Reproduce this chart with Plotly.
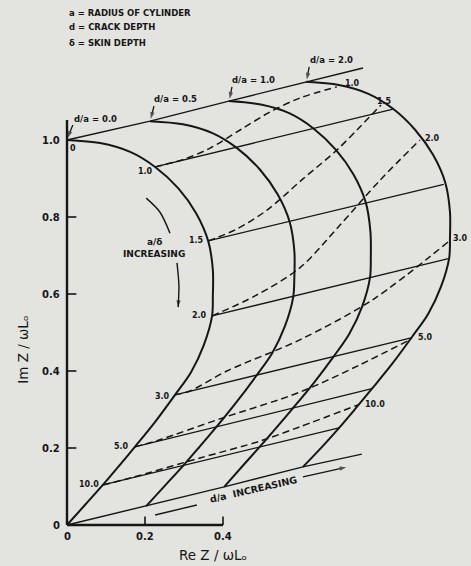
import plotly.graph_objects as go

# ---------------- data ----------------
# impedance curves for each crack depth ratio d/a
curve_x = {
    "0.0": [0.000, 0.085, 0.162, 0.226, 0.285, 0.331, 0.362, 0.374, 0.374, 0.372, 0.351, 0.318, 0.277, 0.226, 0.174, 0.133, 0.092, 0.046, 0.000],
    "0.5": [0.213, 0.297, 0.373, 0.436, 0.494, 0.540, 0.571, 0.583, 0.583, 0.580, 0.559, 0.526, 0.485, 0.433, 0.381, 0.339, 0.297, 0.250, 0.203],
    "1.0": [0.415, 0.497, 0.571, 0.632, 0.689, 0.735, 0.766, 0.778, 0.779, 0.777, 0.757, 0.724, 0.684, 0.632, 0.579, 0.537, 0.495, 0.449, 0.403],
    "2.0": [0.613, 0.697, 0.773, 0.836, 0.893, 0.939, 0.970, 0.982, 0.982, 0.980, 0.959, 0.926, 0.885, 0.834, 0.782, 0.741, 0.700, 0.654, 0.605],
}
curve_y = {
    "0.0": [1.000, 0.992, 0.969, 0.930, 0.875, 0.810, 0.738, 0.662, 0.597, 0.543, 0.468, 0.397, 0.338, 0.268, 0.203, 0.153, 0.104, 0.052, 0.000],
    "0.5": [1.049, 1.041, 1.018, 0.979, 0.924, 0.859, 0.787, 0.711, 0.646, 0.592, 0.517, 0.446, 0.387, 0.317, 0.252, 0.202, 0.153, 0.101, 0.049],
    "1.0": [1.101, 1.092, 1.069, 1.030, 0.975, 0.910, 0.838, 0.762, 0.697, 0.643, 0.568, 0.497, 0.438, 0.368, 0.303, 0.253, 0.204, 0.152, 0.099],
    "2.0": [1.151, 1.143, 1.120, 1.081, 1.026, 0.961, 0.889, 0.813, 0.748, 0.694, 0.619, 0.548, 0.489, 0.419, 0.354, 0.304, 0.255, 0.203, 0.151],
}

# envelope lines (a/delta = 0 on top, a/delta -> infinity at bottom)
top_x = [0.000, 0.213, 0.415, 0.613, 0.759]
top_y = [1.000, 1.049, 1.101, 1.151, 1.187]
bottom_x = [0.000, 0.203, 0.403, 0.605, 0.756]
bottom_y = [0.000, 0.049, 0.099, 0.151, 0.184]

# a/delta values
a_delta = ["1.0", "1.5", "2.0", "3.0", "5.0", "10.0"]
# points on the d/a = 0.0 curve
p0_x = [0.226, 0.362, 0.372, 0.277, 0.174, 0.092]
p0_y = [0.930, 0.738, 0.543, 0.338, 0.203, 0.104]
# end of straight (solid) lines on d/a = 2.0 curve
solid_end_x = [0.836, 0.966, 0.978, 0.885, 0.782, 0.700]
solid_end_y = [1.080, 0.885, 0.692, 0.487, 0.354, 0.253]

# dashed lines of constant a/delta
dashed_x = {
    "1.0": [0.226, 0.303, 0.367, 0.444, 0.521, 0.597, 0.692],
    "1.5": [0.362, 0.436, 0.513, 0.605, 0.692, 0.751, 0.805],
    "2.0": [0.372, 0.482, 0.597, 0.700, 0.803, 0.905],
    "3.0": [0.277, 0.315, 0.410, 0.597, 0.782, 0.977],
    "5.0": [0.174, 0.236, 0.390, 0.597, 0.751, 0.879],
    "10.0": [0.092, 0.162, 0.341, 0.495, 0.597, 0.746],
}
dashed_y = {
    "1.0": [0.930, 0.951, 0.979, 1.026, 1.073, 1.109, 1.138],
    "1.5": [0.738, 0.769, 0.818, 0.899, 0.974, 1.034, 1.091],
    "2.0": [0.543, 0.595, 0.668, 0.779, 0.896, 1.000],
    "3.0": [0.338, 0.348, 0.400, 0.481, 0.584, 0.735],
    "5.0": [0.203, 0.221, 0.275, 0.345, 0.416, 0.481],
    "10.0": [0.104, 0.122, 0.174, 0.218, 0.255, 0.312],
}

y_ticks = [0.2, 0.4, 0.6, 0.8]
y_tick_labels = ["0", "0.2", "0.4", "0.6", "0.8", "1.0"]
y_tick_label_vals = [0.0, 0.2, 0.4, 0.6, 0.8, 1.0]
x_ticks = [0.2, 0.4]
x_tick_labels = ["0", "0.2", "0.4"]
x_tick_label_vals = [0.0, 0.2, 0.4]

INK = "#161616"
BG = "#e3e3df"
FONT = "DejaVu Sans"

fig = go.Figure()

def line(xs, ys, width=1.3, dash=None, spline=False, arrow=False):
    marker = None
    mode = "lines"
    if arrow:
        mode = "lines+markers"
        marker = dict(symbol="arrow", angleref="previous", color=INK,
                      size=[0] * (len(xs) - 1) + [7], line=dict(width=0))
    fig.add_trace(go.Scatter(
        x=xs, y=ys, mode=mode, hoverinfo="skip", showlegend=False, marker=marker,
        line=dict(color=INK, width=width, dash=dash,
                  shape="spline" if spline else "linear", smoothing=0.9),
    ))

# main curves
for k in curve_x:
    line(curve_x[k], curve_y[k], width=2.0, spline=True)
line(top_x, top_y, width=1.4)
line(bottom_x, bottom_y, width=1.4)

# straight lines of constant a/delta
for i in range(len(a_delta)):
    line([p0_x[i], solid_end_x[i]], [p0_y[i], solid_end_y[i]], width=1.3)

# dashed lines
for k in dashed_x:
    line(dashed_x[k], dashed_y[k], width=1.5, dash="7px,4px", spline=True)

# axes
line([0, 0], [0, 1.052], width=2.4)
line([0, 0.4], [0, 0], width=2.4)
for t in y_ticks:
    line([0, 0.024], [t, t], width=1.6)
for t in x_ticks:
    line([t, t], [0, 0.022], width=1.6)

ann = []
def text(x, y, s, size=8.5, xanchor="center", angle=0, bold=True):
    ann.append(dict(x=x, y=y, text=f"<b>{s}</b>" if bold else s, showarrow=False,
                    xanchor=xanchor, yanchor="middle", textangle=angle,
                    font=dict(family=FONT, size=size, color=INK)))

for v, s in zip(y_tick_label_vals, y_tick_labels):
    text(-0.014, v, s, size=10, xanchor="right")
for v, s in zip(x_tick_label_vals, x_tick_labels):
    text(v, -0.031, s, size=10)

# legend notes
text(0.0, 1.330, "a = RADIUS OF CYLINDER", size=8.5, xanchor="left")
text(0.0, 1.294, "d = CRACK DEPTH", size=8.5, xanchor="left")
text(0.0, 1.252, "δ = SKIN DEPTH", size=8.5, xanchor="left")

# a/delta labels on d/a = 0 curve
lab0 = [(0.200, 0.917), (0.333, 0.738), (0.341, 0.543), (0.246, 0.335), (0.141, 0.203), (0.056, 0.106)]
for (x, y), s in zip(lab0, a_delta):
    text(x, y, s, size=8)
# a/delta labels on d/a = 2.0 curve
lab2 = [(0.733, 1.148), (0.815, 1.101), (0.936, 1.005), (1.008, 0.745), (0.918, 0.486), (0.790, 0.314)]
for (x, y), s in zip(lab2, a_delta):
    text(x, y, s, size=8)
text(0.016, 0.978, "0", size=8)

# d/a labels with arrows
da_labels = ["0.0", "0.5", "1.0", "2.0"]
da_text = [(0.074, 1.055), (0.279, 1.106), (0.477, 1.156), (0.677, 1.208)]
da_tail = [(0.015, 1.039), (0.223, 1.088), (0.423, 1.138), (0.621, 1.190)]
for s, (tx, ty), (ax, ay), k in zip(da_labels, da_text, da_tail, curve_x):
    text(tx, ty, f"d/a = {s}", size=8.5)
    line([ax, curve_x[k][0] + 0.002], [ay, curve_y[k][0] + 0.006], width=1.3, arrow=True)

# a/delta increasing
text(0.226, 0.735, "a/δ", size=9)
text(0.223, 0.704, "INCREASING", size=9)
line([0.203, 0.238, 0.264], [0.849, 0.813, 0.758], width=1.4, spline=True)
line([0.282, 0.287, 0.286, 0.285], [0.681, 0.623, 0.585, 0.566], width=1.4, spline=True, arrow=True)

# d/a increasing
text(0.477, 0.091, "d/a  INCREASING", size=9.5, angle=-13)
line([0.226, 0.333], [0.026, 0.052], width=1.4)
line([0.605, 0.716], [0.125, 0.150], width=1.4, arrow=True)

# axis titles
ann.append(dict(x=0.374, y=-0.078, text="Re Z / ωLₒ", showarrow=False,
                font=dict(family=FONT, size=13.5, color=INK)))
ann.append(dict(x=-0.113, y=0.455, text="Im Z / ωLₒ", showarrow=False, textangle=-90,
                font=dict(family=FONT, size=13.5, color=INK)))

fig.update_layout(
    width=471, height=566, autosize=False,
    margin=dict(l=0, r=0, t=0, b=0),
    paper_bgcolor=BG, plot_bgcolor=BG,
    xaxis=dict(range=[-67 / 390, 404 / 390], visible=False, fixedrange=True),
    yaxis=dict(range=[-41 / 385, 525 / 385], visible=False, fixedrange=True),
    annotations=ann, showlegend=False,
)

fig.write_html("out.html", post_script="document.body.style.margin='0';",
               config={"displayModeBar": False})
